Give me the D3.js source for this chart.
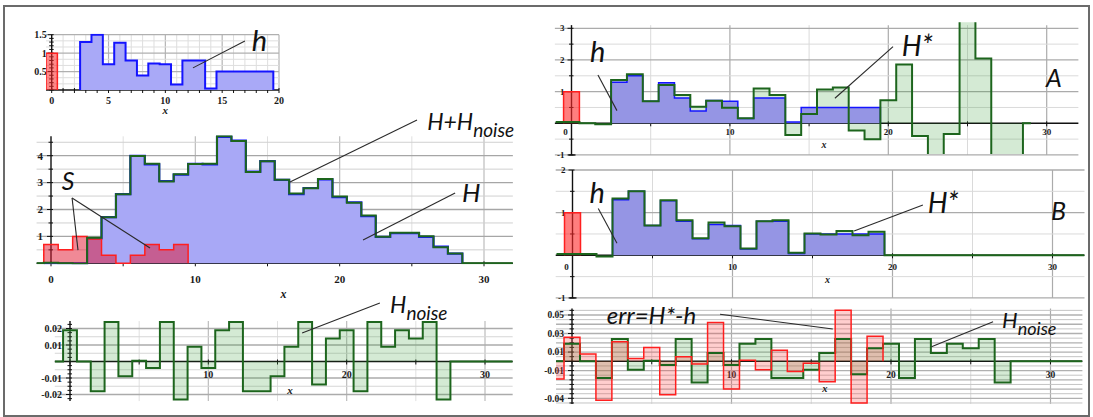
<!DOCTYPE html>
<html>
<head>
<meta charset="utf-8">
<script src="https://cdn.jsdelivr.net/npm/d3@7"></script>
<style>
  body { margin: 0; background: #fff; }
  svg { display: block; }
  .tl { font-family: "Liberation Serif", "Times New Roman", serif; font-weight: bold; fill: #1a1a1a; }
  .ax { font-family: "Liberation Serif", "Times New Roman", serif; font-weight: bold; font-style: italic; fill: #1a1a1a; }
  .note { font-family: Lato, "Open Sans", sans-serif; font-style: italic; fill: #111; }
</style>
</head>
<body>
<svg id="fig" width="1093" height="417"></svg>
<script>
// Unit-width histograms: bin k covers [k-0.5, k+0.5].

// small input pulse h0 and the sought kernel h
const h0First = 0;
const h0 = [1.0];
const hFirst = 3;
const h = [1.3, 1.5, 0.7, 1.28, 0.8, 0.39, 0.72, 0.7, 0.15, 0.8, 0.8, 0.04, 0.5, 0.5, 0.5, 0.5, 0.5];

// source S and response H
const sFirst = 0;
const S = [0.7, 0.5, 1.0, 0.9, 0.3, 0, 0.3, 0.7, 0.5, 0.7];
const HFirst = 0;
const H = [0, 0, 0, 0.93, 1.72, 2.57, 3.99, 3.68, 3.06, 3.3, 3.7, 3.68, 4.7, 4.56, 3.41,
           3.8, 3.1, 2.57, 2.8, 3.12, 2.46, 2.27, 1.75, 0.98, 1.12, 1.12, 0.98, 0.62, 0.36];

// additive noise
const noiseFirst = 0;
const Hnoise = [0.019, 0, -0.018, 0.024, -0.009, 0.0005, -0.004, 0.024, -0.023, 0.009,
                -0.004, 0.019, 0.024, -0.018, -0.018, -0.009, 0.009, 0.024, -0.014, 0.014,
                0.019, -0.018, 0.024, 0.009, 0.019, 0.014, 0.024, -0.023];

// reconstructions H* : case A and case B
const starFirst = 0;
const HstarA = [0.04, 0, -0.03, 1.37, 1.55, 0.70, 1.21, 0.89, 0.52, 0.71, 0.49, 0.16, 1.10, 0.89,
                -0.37, 0.29, 1.07, 1.13, -0.23, -0.50, 0.73, 1.86, -0.40, -1.6, -0.34, 4.2, 2.05, -1.8, -1.7];
const HstarAEnd = 29;
const HstarB = [0.03, 0.03, -0.03, 1.33, 1.5, 0.70, 1.29, 0.82, 0.40, 0.77, 0.68, 0.16, 0.80, 0.82,
                0.06, 0.51, 0.49, 0.57, 0.47, 0.55];

// reconstruction error
const errFirst = -1;
const err = [-0.019, 0.026, 0.008, -0.042, 0.021, 0.003, 0.015, -0.036, 0.005, -0.003, 0.042,
             -0.030, 0.001, -0.009, 0.012, -0.011, -0.002, -0.022, 0.055, -0.045, 0.027, 0];

// tick labels
const ticksX20 = [0, 5, 10, 15, 20];
const ticksX30 = [0, 10, 20, 30];
const ticksX30noZero = [10, 20, 30];
const ticksY_h = [0.5, 1, 1.5];
const ticksY_H = [1, 2, 3, 4];
const ticksY_noise = [0.02, 0.01, -0.01, -0.02];
const ticksY_A = [3, 2, 1, -1];
const ticksY_B = [2, 1, -1];
const ticksY_err = [0.05, 0.03, 0.01, -0.01, -0.04];

// ---------------------------------------------------------------
const svg = d3.select('#fig');
const defs = svg.append('defs');

svg.append('rect').attr('x', 4).attr('y', 6).attr('width', 1085).attr('height', 410)
  .attr('fill', 'none').attr('stroke', '#6b6b6b').attr('stroke-width', 2);

function multiples(lo, hi, step) {
  const out = [];
  const k0 = Math.ceil(lo / step - 1e-9), k1 = Math.floor(hi / step + 1e-9);
  for (let k = k0; k <= k1; k++) out.push(+(k * step).toFixed(10));
  return out;
}
const isMult = (v, step) => Math.abs(v / step - Math.round(v / step)) < 1e-6;

function stepPts(values, firstBin, o = {}) {
  const pts = [];
  const start = firstBin - 0.5;
  if (o.leadFrom !== undefined) pts.push([o.leadFrom, o.leadValue === undefined ? 0 : o.leadValue]);
  values.forEach((v, i) => pts.push([start + i, v]));
  const end = start + values.length;
  if (!o.noTail) pts.push([end, 0]);
  if (o.tailTo !== undefined) pts.push([o.tailTo, 0]);
  return pts;
}

function makePanel(c) {
  const x = d3.scaleLinear().domain(c.xd).range(c.xr);
  const y = d3.scaleLinear().domain(c.yd).range(c.yr);
  const L = x(c.xExt[0]), R = x(c.xExt[1]), T = y(c.yExt[1]), B = y(c.yExt[0]);
  const g = svg.append('g');
  const cid = 'clip-' + c.id;
  defs.append('clipPath').attr('id', cid).append('rect')
    .attr('x', L).attr('y', T - (c.clipPadTop || 1)).attr('width', R - L).attr('height', B - T + 2);

  // grid
  const grid = g.append('g');
  multiples(c.xExt[0], c.xExt[1], c.gv.minor).forEach(v => {
    if (Math.abs(v) < 1e-9) return;
    const major = isMult(v, c.gv.major);
    grid.append('line').attr('x1', x(v)).attr('x2', x(v)).attr('y1', T).attr('y2', B)
      .attr('stroke', major ? c.gv.majorCol : c.gv.minorCol).attr('stroke-width', major ? 1.2 : 1);
  });
  multiples(c.yExt[0], c.yExt[1], c.gh.minor).forEach(v => {
    if (Math.abs(v) < 1e-9) return;
    const major = isMult(v, c.gh.major);
    grid.append('line').attr('x1', L).attr('x2', R).attr('y1', y(v)).attr('y2', y(v))
      .attr('stroke', major ? c.gh.majorCol : c.gh.minorCol).attr('stroke-width', major ? 1.3 : 1);
  });

  // axes
  const axes = g.append('g').attr('stroke', '#111');
  axes.append('line').attr('x1', L).attr('x2', R).attr('y1', y(0)).attr('y2', y(0)).attr('stroke-width', 1.4);
  axes.append('line').attr('x1', x(0)).attr('x2', x(0)).attr('y1', T).attr('y2', B).attr('stroke-width', 1.4);
  multiples(c.xExt[0], c.xExt[1], c.xTickStep).forEach(v => {
    axes.append('line').attr('x1', x(v)).attr('x2', x(v)).attr('y1', y(0) - 2).attr('y2', y(0) + 3).attr('stroke-width', 1);
  });
  multiples(c.yExt[0], c.yExt[1], c.yTickStep).forEach(v => {
    const major = c.yTicks.some(t => Math.abs(t - v) < 1e-9);
    axes.append('line').attr('x1', x(0) - (major ? 4 : 2.5)).attr('x2', x(0) + 2)
      .attr('y1', y(v)).attr('y2', y(v)).attr('stroke-width', 1);
  });
  if (c.bottomTick) {
    axes.append('line').attr('x1', x(0) - 3).attr('x2', x(0) + 4).attr('y1', B).attr('y2', B).attr('stroke-width', 1.4);
  }

  // tick labels
  const lab = g.append('g');
  c.xTicks.forEach(v => {
    lab.append('text').attr('class', 'tl').attr('font-size', c.fs)
      .attr('x', x(v) + (v === 0 ? (c.zeroDx || 0) : 0)).attr('y', y(0) + c.xLabDy)
      .attr('text-anchor', 'middle').text(String(v));
  });
  c.yTicks.forEach(v => {
    lab.append('text').attr('class', 'tl').attr('font-size', c.fs)
      .attr('x', x(0) - c.yLabDx).attr('y', y(v) + c.fs * 0.35)
      .attr('text-anchor', 'end').text(String(v));
  });
  lab.append('text').attr('class', 'ax').attr('font-size', c.fs + 1)
    .attr('x', x(c.xTitleAt)).attr('y', y(0) + c.xTitleDy).attr('text-anchor', 'middle').text('x');

  const data = svg.append('g').attr('clip-path', `url(#${cid})`);
  const notes = svg.append('g');
  return { x, y, data, notes,
    line: d3.line().curve(d3.curveStepAfter).x(d => x(d[0])).y(d => y(d[1])),
    area: d3.area().curve(d3.curveStepAfter).x(d => x(d[0])).y0(y(0)).y1(d => y(d[1])) };
}

function drawStep(P, pts, o) {
  if (o.fill) P.data.append('path').datum(pts).attr('d', P.area).attr('fill', o.fill).attr('stroke', 'none');
  if (o.stroke) P.data.append('path').datum(pts).attr('d', P.line).attr('fill', 'none')
    .attr('stroke', o.stroke).attr('stroke-width', o.width || 2).attr('stroke-linejoin', 'miter');
}

function leader(P, a, b) {
  P.notes.append('line').attr('x1', P.x(a[0])).attr('y1', P.y(a[1])).attr('x2', P.x(b[0])).attr('y2', P.y(b[1]))
    .attr('stroke', '#2a2a2a').attr('stroke-width', 1.1);
}
function note(P, at, main, sub, size, subSize) {
  const t = P.notes.append('text').attr('class', 'note').attr('font-size', size)
    .attr('x', P.x(at[0])).attr('y', P.y(at[1])).text(main);
  if (sub) t.append('tspan').attr('font-size', subSize).attr('dy', size * 0.3).text(sub);
}

const GREEN = '#1d651d', GREEN_FILL = 'rgba(60,160,60,0.22)';
const BLUE = '#1414ff';
const RED = '#ff1f1f';

// ---------- panel: kernel h ----------
const P1 = makePanel({
  id: 'h', xd: [0, 20], xr: [51.7, 279], yd: [0, 1.5], yr: [90, 34.7], xExt: [-0.5, 20], yExt: [0, 1.5],
  gv: { minor: 1, major: 5, minorCol: '#dedede', majorCol: '#b5b5b5' },
  gh: { minor: 0.5 / 3, major: 0.5, minorCol: '#dedede', majorCol: '#b0b0b0' },
  xTickStep: 1, yTickStep: 0.1, xTicks: ticksX20, yTicks: ticksY_h,
  fs: 10, xLabDy: 14, yLabDx: 5, xTitleAt: 10, xTitleDy: 24
});
drawStep(P1, stepPts(h, hFirst, { leadFrom: hFirst - 0.5 }), { fill: '#a9a9f7', stroke: BLUE, width: 2 });
drawStep(P1, stepPts(h0, h0First, { leadFrom: h0First - 0.5 }), { fill: 'rgba(255,40,40,0.55)', stroke: RED, width: 1.5 });
note(P1, [17.6, 1.065], 'h', null, 29);
leader(P1, [17.0, 1.33], [12.43, 0.6]);

// ---------- panel: S and H ----------
const P2 = makePanel({
  id: 'H', xd: [0, 30], xr: [51, 484], yd: [0, 4], yr: [263.3, 155.7], xExt: [-1, 32], yExt: [0, 4.72],
  gv: { minor: 5, major: 10, minorCol: '#e0e0e0', majorCol: '#bdbdbd' },
  gh: { minor: 0.5, major: 1, minorCol: '#d0d0d0', majorCol: '#a6a6a6' },
  xTickStep: 5, yTickStep: 0.5, xTicks: ticksX30, yTicks: ticksY_H,
  fs: 11, xLabDy: 20, yLabDx: 8, xTitleAt: 16.1, xTitleDy: 35
});
const Gsum = H.map((v, i) => v + (Hnoise[i] || 0));
drawStep(P2, stepPts(H, HFirst, { leadFrom: HFirst - 0.5 }), { fill: '#a8a8f6', stroke: BLUE, width: 2.2 });
drawStep(P2, stepPts(S, sFirst, { leadFrom: sFirst - 0.5 }), { fill: 'rgba(225,20,45,0.5)', stroke: RED, width: 1.5 });
drawStep(P2, stepPts(Gsum, HFirst, { leadFrom: -1, tailTo: 32 }), { stroke: GREEN, width: 2 });
note(P2, [26.06, 4.96], 'H+H', 'noise', 23, 19);
leader(P2, [25.36, 5.33], [16.56, 3.02]);
note(P2, [28.48, 2.28], 'H', null, 26);
leader(P2, [28.0, 2.61], [21.62, 0.87]);
note(P2, [0.74, 2.72], 'S', null, 25);
leader(P2, [1.46, 2.43], [1.87, 0.49]);
leader(P2, [1.46, 2.43], [6.86, 0.57]);

// ---------- panel: noise ----------
const P3 = makePanel({
  id: 'noise', xd: [0, 30], xr: [70, 485], yd: [0, 0.02], yr: [361.5, 328.5], xExt: [-1.1, 32], yExt: [-0.024, 0.0245],
  gv: { minor: 5, major: 10, minorCol: '#e0e0e0', majorCol: '#bdbdbd' },
  gh: { minor: 0.005, major: 0.01, minorCol: '#d6d6d6', majorCol: '#ababab' },
  xTickStep: 5, yTickStep: 0.0025, xTicks: ticksX30noZero, yTicks: ticksY_noise,
  fs: 10, xLabDy: 16.5, yLabDx: 8, xTitleAt: 15.9, xTitleDy: 32.5
});
drawStep(P3, stepPts(Hnoise, noiseFirst, { leadFrom: -1.1, tailTo: 32 }), { fill: GREEN_FILL, stroke: GREEN, width: 2 });
note(P3, [23.14, 0.0294], 'H', 'noise', 23, 19);
leader(P3, [22.4, 0.0355], [16.78, 0.0173]);

// ---------- panel A ----------
const PA = makePanel({
  id: 'A', xd: [0, 30], xr: [571.5, 1046.7], yd: [0, 3], yr: [123.3, 28.3], xExt: [-1.05, 32], yExt: [-1, 3.1],
  gv: { minor: 5, major: 10, minorCol: '#dadada', majorCol: '#ababab' },
  gh: { minor: 0.5, major: 1, minorCol: '#dadada', majorCol: '#ababab' },
  xTickStep: 5, yTickStep: 0.5, xTicks: ticksX30, yTicks: ticksY_A, bottomTick: true, clipPadTop: 3,
  fs: 9, xLabDy: 12, yLabDx: 7, zeroDx: -6, xTitleAt: 15.94, xTitleDy: 25
});
drawStep(PA, stepPts(HstarA, starFirst, { leadFrom: -1, leadValue: HstarA[0], tailTo: HstarAEnd }), { fill: GREEN_FILL });
drawStep(PA, stepPts(h, hFirst, { leadFrom: hFirst - 0.5 }), { fill: '#9595e4', stroke: BLUE, width: 1.5 });
drawStep(PA, stepPts(h0, h0First, { leadFrom: h0First - 0.5 }), { fill: 'rgba(255,40,40,0.6)', stroke: RED, width: 1.5 });
drawStep(PA, stepPts(HstarA, starFirst, { leadFrom: -1, leadValue: HstarA[0], tailTo: HstarAEnd }), { stroke: GREEN, width: 2 });
note(PA, [1.17, 1.93], 'h', null, 29);
leader(PA, [1.67, 1.525], [2.87, 0.40]);
note(PA, [20.85, 2.125], 'H*', null, 28);
leader(PA, [20.3, 2.42], [16.63, 0.79]);
note(PA, [29.96, 1.146], 'A', null, 25);

// ---------- panel B ----------
const PB = makePanel({
  id: 'B', xd: [0, 30], xr: [572.5, 1052.5], yd: [0, 2], yr: [255.3, 170], xExt: [-1.05, 32], yExt: [-1, 2],
  gv: { minor: 5, major: 10, minorCol: '#dadada', majorCol: '#ababab' },
  gh: { minor: 0.5, major: 1, minorCol: '#dadada', majorCol: '#ababab' },
  xTickStep: 5, yTickStep: 0.5, xTicks: ticksX30, yTicks: ticksY_B, bottomTick: true,
  fs: 9, xLabDy: 15, yLabDx: 7, zeroDx: -6, xTitleAt: 15.94, xTitleDy: 28
});
drawStep(PB, stepPts(HstarB, starFirst, { leadFrom: -1, leadValue: HstarB[0], tailTo: 32 }), { fill: GREEN_FILL });
drawStep(PB, stepPts(h, hFirst, { leadFrom: hFirst - 0.5 }), { fill: '#9595e4', stroke: BLUE, width: 1.5 });
drawStep(PB, stepPts(h0, h0First, { leadFrom: h0First - 0.5 }), { fill: 'rgba(255,40,40,0.6)', stroke: RED, width: 1.5 });
drawStep(PB, stepPts(HstarB, starFirst, { leadFrom: -1, leadValue: HstarB[0], tailTo: 32 }), { stroke: GREEN, width: 2 });
note(PB, [1.06, 1.22], 'h', null, 29);
leader(PB, [1.61, 1.10], [2.78, 0.28]);
note(PB, [22.2, 0.985], 'H*', null, 28);
leader(PB, [21.9, 1.18], [17.6, 0.57]);
note(PB, [29.9, 0.83], 'B', null, 25);

// ---------- panel: error vs noise ----------
const PC = makePanel({
  id: 'err', xd: [0, 30], xr: [572, 1050.5], yd: [0, 0.05], yr: [361.3, 315], xExt: [-1, 32], yExt: [-0.046, 0.057],
  gv: { minor: 5, major: 10, minorCol: '#dadada', majorCol: '#ababab' },
  gh: { minor: 0.005, major: 0.01, minorCol: '#c4c4c4', majorCol: '#b0b0b0' },
  xTickStep: 5, yTickStep: 0.005, xTicks: ticksX30noZero, yTicks: ticksY_err,
  fs: 9.5, xLabDy: 16.5, yLabDx: 8, xTitleAt: 15.86, xTitleDy: 31
});
drawStep(PC, stepPts(Hnoise, noiseFirst, { leadFrom: -1, tailTo: 32 }), { fill: GREEN_FILL });
drawStep(PC, stepPts(err, errFirst, { noTail: true }), { fill: 'rgba(255,60,60,0.25)' });
drawStep(PC, stepPts(Hnoise, noiseFirst, { leadFrom: -1, tailTo: 32 }), { stroke: GREEN, width: 2 });
drawStep(PC, stepPts(err, errFirst, { noTail: true }), { stroke: RED, width: 1.5 });
note(PC, [2.18, 0.0403], 'err=H*-h', null, 24);
leader(PC, [9.28, 0.0508], [16.35, 0.0349]);
note(PC, [26.96, 0.0357], 'H', 'noise', 22, 18);
leader(PC, [26.4, 0.0428], [22.54, 0.0158]);
</script>
</body>
</html>
